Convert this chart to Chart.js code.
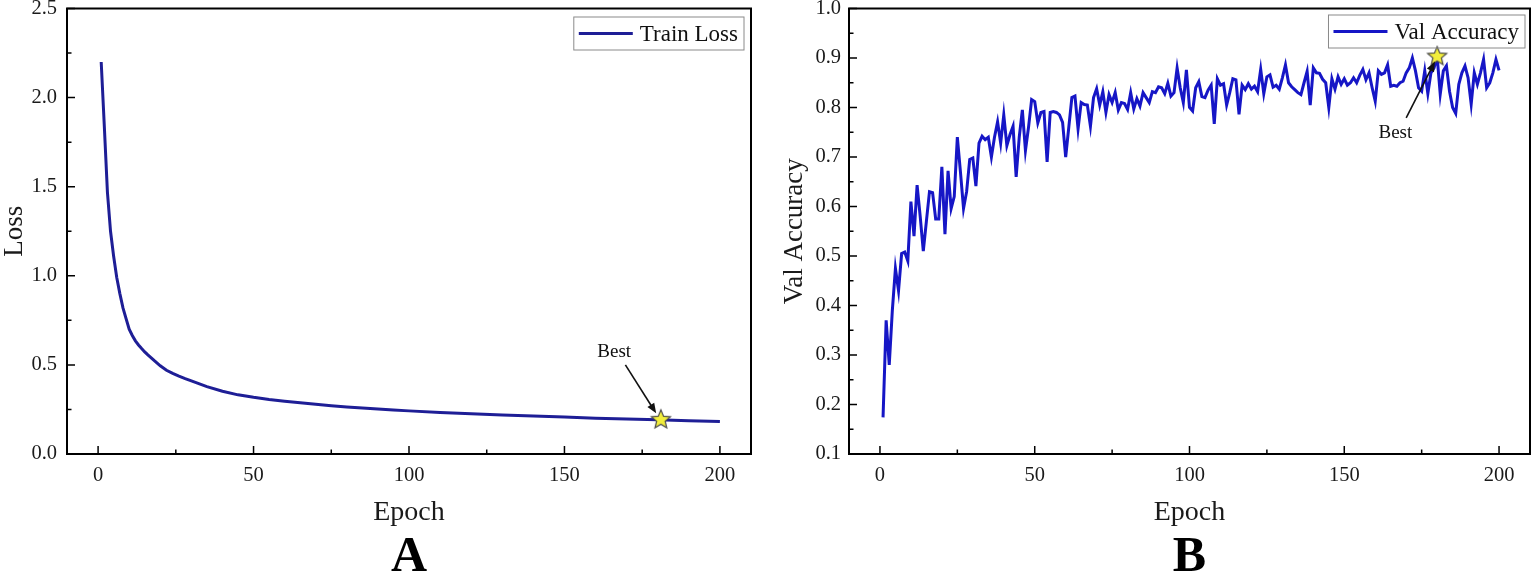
<!DOCTYPE html>
<html>
<head>
<meta charset="utf-8">
<script src="https://cdn.jsdelivr.net/npm/chart.js@4.4.1/dist/chart.umd.min.js"></script>
<style>
  html, body { margin: 0; padding: 0; background: #fff; overflow: hidden; }
  .panel { position: absolute; top: 0; height: 577px; }
  #panelA { left: 0; width: 760px; }
  #panelB { left: 760px; width: 775px; }
</style>
</head>
<body>
<div class="panel" id="panelA"><canvas id="lossChart"></canvas></div>
<div class="panel" id="panelB"><canvas id="accChart"></canvas></div>
<script>
const lossEpochs = [1, 2, 3, 4, 5, 6, 7, 8, 9, 10, 11, 12, 13, 14, 15, 16, 17, 18, 19, 20,
  22, 24, 26, 28, 30, 35, 40, 45, 50, 55, 60, 65, 70, 75, 80, 85, 90, 95, 100,
  110, 120, 130, 140, 150, 160, 170, 180, 190, 200];
const lossValues = [2.20, 1.84, 1.47, 1.25, 1.11, 0.99, 0.90, 0.82, 0.76, 0.70, 0.665, 0.635, 0.612, 0.592, 0.573, 0.556, 0.541, 0.525, 0.51, 0.495,
  0.47, 0.452, 0.437, 0.423, 0.41, 0.378, 0.352, 0.332, 0.318, 0.306, 0.296, 0.287, 0.279, 0.271, 0.264, 0.258, 0.252, 0.247, 0.242,
  0.233, 0.226, 0.219, 0.213, 0.207, 0.201, 0.196, 0.192, 0.187, 0.183];

// val accuracy, one value per epoch 1..200
const accValues = [
  0.174, 0.37, 0.28, 0.39, 0.475, 0.43, 0.505, 0.508, 0.49, 0.61,
  0.54, 0.643, 0.58, 0.51, 0.57, 0.63, 0.628, 0.575, 0.575, 0.68,
  0.544, 0.672, 0.596, 0.62, 0.74, 0.67, 0.596, 0.63, 0.695, 0.698,
  0.641, 0.728, 0.742, 0.735, 0.74, 0.70, 0.74, 0.771, 0.728, 0.785,
  0.723, 0.745, 0.762, 0.66, 0.74, 0.795, 0.713, 0.76, 0.816, 0.812,
  0.769, 0.79, 0.792, 0.69, 0.79, 0.792, 0.79, 0.785, 0.77, 0.70,
  0.76, 0.82, 0.823, 0.757, 0.81, 0.806, 0.805, 0.762, 0.82, 0.838,
  0.805, 0.832, 0.79, 0.826, 0.81, 0.83, 0.795, 0.81, 0.808, 0.796,
  0.83, 0.797, 0.818, 0.803, 0.83, 0.82, 0.81, 0.832, 0.83, 0.842,
  0.84, 0.828, 0.849, 0.823, 0.83, 0.88, 0.84, 0.81, 0.876, 0.80,
  0.793, 0.84, 0.852, 0.822, 0.82, 0.835, 0.845, 0.767, 0.858, 0.845,
  0.848, 0.805, 0.83, 0.858, 0.856, 0.786, 0.845, 0.836, 0.848, 0.837,
  0.843, 0.832, 0.877, 0.828, 0.862, 0.866, 0.841, 0.845, 0.837, 0.86,
  0.886, 0.85, 0.842, 0.836, 0.83, 0.826, 0.85, 0.873, 0.805, 0.88,
  0.87, 0.869, 0.857, 0.85, 0.80, 0.858, 0.837, 0.862, 0.847, 0.858,
  0.845, 0.85, 0.86, 0.85, 0.865, 0.877, 0.856, 0.87, 0.84, 0.813,
  0.874, 0.867, 0.87, 0.886, 0.843, 0.845, 0.843, 0.85, 0.853, 0.87,
  0.88, 0.90, 0.874, 0.84, 0.833, 0.874, 0.828, 0.87, 0.88, 0.903,
  0.827, 0.874, 0.884, 0.833, 0.80, 0.788, 0.847, 0.87, 0.884, 0.86,
  0.807, 0.87, 0.847, 0.87, 0.897, 0.84, 0.85, 0.87, 0.897, 0.875
];
const accEpochs = accValues.map((v, i) => i + 1);

const bestLoss = { x: 181, y: 0.192 };
const bestAcc = { x: 180, y: 0.903 };

const xTicks = [0, 25, 50, 75, 100, 125, 150, 175, 200];
const xLabelled = [0, 50, 100, 150, 200];
const lossTicks = [0, 0.25, 0.5, 0.75, 1, 1.25, 1.5, 1.75, 2, 2.25, 2.5];
const lossLabelled = [0, 0.5, 1, 1.5, 2, 2.5];
const accTicks = [0.1, 0.15, 0.2, 0.25, 0.3, 0.35, 0.4, 0.45, 0.5, 0.55, 0.6, 0.65, 0.7, 0.75, 0.8, 0.85, 0.9, 0.95, 1.0];
const accLabelled = [0.1, 0.2, 0.3, 0.4, 0.5, 0.6, 0.7, 0.8, 0.9, 1.0];

const SERIF = "'Liberation Serif', 'Times New Roman', serif";

const has = (list, v) => list.some((t) => Math.abs(t - v) < 1e-6);

function makeStar(r) {
  const c = document.createElement('canvas');
  const s = Math.ceil(r * 2 + 4);
  c.width = s;
  c.height = s;
  const g = c.getContext('2d');
  g.beginPath();
  for (let i = 0; i < 10; i++) {
    const rad = i % 2 === 0 ? r : r * 0.45;
    const a = -Math.PI / 2 + (i * Math.PI) / 5;
    g.lineTo(s / 2 + rad * Math.cos(a), s / 2 + rad * Math.sin(a));
  }
  g.closePath();
  g.fillStyle = '#f2ee3c';
  g.fill();
  g.lineWidth = 1.2;
  g.strokeStyle = '#4a4a4a';
  g.stroke();
  return c;
}

// frame, inward ticks, boxed legend and the "Best" arrow
const decorations = {
  id: 'decorations',
  afterDraw(chart, args, o) {
    const { ctx, chartArea: a, scales } = chart;
    ctx.save();
    ctx.strokeStyle = '#000';
    ctx.lineWidth = 2;
    ctx.strokeRect(a.left, a.top, a.right - a.left, a.bottom - a.top);

    ctx.lineWidth = 1.5;
    ctx.beginPath();
    o.xTicks.forEach((v) => {
      const px = scales.x.getPixelForValue(v);
      const len = has(o.xLabelled, v) ? 8 : 4.5;
      ctx.moveTo(px, a.bottom);
      ctx.lineTo(px, a.bottom - len);
    });
    o.yTicks.forEach((v) => {
      const py = scales.y.getPixelForValue(v);
      const len = has(o.yLabelled, v) ? 8 : 4.5;
      ctx.moveTo(a.left, py);
      ctx.lineTo(a.left + len, py);
    });
    ctx.stroke();

    // legend
    const ds = chart.data.datasets[1];
    ctx.font = '23px ' + SERIF;
    const tw = ctx.measureText(ds.label).width;
    const w = 5 + 54 + 7 + tw + 6;
    const h = 33;
    const lx = a.right - o.legendInset - w;
    const ly = a.top + o.legendTop;
    ctx.lineWidth = 1;
    ctx.strokeStyle = '#8a8a8a';
    ctx.strokeRect(lx, ly, w, h);
    ctx.strokeStyle = ds.borderColor;
    ctx.lineWidth = 2.8;
    ctx.beginPath();
    ctx.moveTo(lx + 5, ly + h / 2);
    ctx.lineTo(lx + 59, ly + h / 2);
    ctx.stroke();
    ctx.fillStyle = '#111';
    ctx.textBaseline = 'middle';
    ctx.textAlign = 'left';
    ctx.fillText(ds.label, lx + 66, ly + h / 2 + 1);

    // annotation
    const n = o.note;
    const tx = scales.x.getPixelForValue(n.text[0]);
    const ty = scales.y.getPixelForValue(n.text[1]);
    ctx.font = '19px ' + SERIF;
    ctx.textAlign = 'center';
    ctx.fillText('Best', tx, ty);
    const x0 = scales.x.getPixelForValue(n.from[0]);
    const y0 = scales.y.getPixelForValue(n.from[1]);
    const x1 = scales.x.getPixelForValue(n.to[0]);
    const y1 = scales.y.getPixelForValue(n.to[1]);
    const ang = Math.atan2(y1 - y0, x1 - x0);
    ctx.strokeStyle = '#111';
    ctx.lineWidth = 1.6;
    ctx.beginPath();
    ctx.moveTo(x0, y0);
    ctx.lineTo(x1 - 7 * Math.cos(ang), y1 - 7 * Math.sin(ang));
    ctx.stroke();
    ctx.beginPath();
    ctx.moveTo(x1, y1);
    ctx.lineTo(x1 - 10 * Math.cos(ang) + 4 * Math.sin(ang), y1 - 10 * Math.sin(ang) - 4 * Math.cos(ang));
    ctx.lineTo(x1 - 10 * Math.cos(ang) - 4 * Math.sin(ang), y1 - 10 * Math.sin(ang) + 4 * Math.cos(ang));
    ctx.closePath();
    ctx.fill();
    ctx.restore();
  },
};

function panelChart(id, p) {
  return new Chart(document.getElementById(id), {
    type: 'line',
    data: {
      datasets: [
        {
          label: 'Best',
          data: [p.best],
          showLine: false,
          pointStyle: makeStar(10),
          pointRadius: 10,
          order: 0,
        },
        {
          label: p.label,
          data: p.xs.map((x, i) => ({ x: x, y: p.ys[i] })),
          borderColor: p.color,
          borderWidth: 3,
          pointRadius: 0,
          tension: 0,
          order: 1,
        },
      ],
    },
    options: {
      responsive: true,
      maintainAspectRatio: false,
      animation: false,
      events: [],
      layout: { autoPadding: false, padding: { left: 0, right: p.padRight, top: 8.5, bottom: 0 } },
      plugins: {
        legend: { display: false },
        tooltip: { enabled: false },
        title: {
          display: true,
          text: p.panel,
          position: 'bottom',
          fullSize: false,
          color: '#000',
          padding: 0,
          font: { family: SERIF, size: 50, weight: 'bold', lineHeight: 0.76 },
        },
        decorations: {
          xTicks: xTicks,
          xLabelled: xLabelled,
          yTicks: p.yTicks,
          yLabelled: p.yLabelled,
          legendInset: p.legendInset,
          legendTop: p.legendTop,
          note: p.note,
        },
      },
      scales: {
        x: {
          type: 'linear',
          min: -10,
          max: 210,
          grid: { display: false, drawTicks: false },
          border: { display: false },
          afterBuildTicks: (s) => { s.ticks = xTicks.map((v) => ({ value: v })); },
          afterFit: (s) => { s.height = 85; s.paddingLeft = 0; s.paddingRight = 0; },
          ticks: {
            autoSkip: false,
            maxRotation: 0,
            padding: 9,
            color: '#1a1a1a',
            font: { family: SERIF, size: 20.5 },
            callback: (v) => (has(xLabelled, v) ? String(v) : ''),
          },
          title: {
            display: true,
            text: 'Epoch',
            color: '#1a1a1a',
            padding: { top: 0, bottom: 12 },
            font: { family: SERIF, size: 28, lineHeight: 1 },
          },
        },
        y: {
          min: p.yMin,
          max: p.yMax,
          grid: { display: false, drawTicks: false },
          border: { display: false },
          afterBuildTicks: (s) => { s.ticks = p.yTicks.map((v) => ({ value: v })); },
          afterFit: (s) => { s.width = p.yWidth; s.paddingTop = 0; s.paddingBottom = 0; },
          ticks: {
            autoSkip: false,
            padding: p.yTickPad,
            color: '#1a1a1a',
            font: { family: SERIF, size: 20.5 },
            callback: (v) => (has(p.yLabelled, v) ? v.toFixed(1) : ''),
          },
          title: {
            display: true,
            text: p.yTitle,
            color: '#1a1a1a',
            padding: { top: p.yTitlePad, bottom: 0 },
            font: { family: SERIF, size: 27, lineHeight: 1 },
          },
        },
      },
    },
    plugins: [decorations],
  });
}

panelChart('lossChart', {
  label: 'Train Loss',
  panel: 'A',
  xs: lossEpochs,
  ys: lossValues,
  best: bestLoss,
  color: '#1e1e96',
  yMin: 0,
  yMax: 2.5,
  yTicks: lossTicks,
  yLabelled: lossLabelled,
  yTitle: 'Loss',
  yWidth: 67,
  yTickPad: 10,
  yTitlePad: 1,
  padRight: 9,
  legendInset: 7,
  legendTop: 8.5,
  note: { text: [166, 0.575], from: [169.6, 0.5], to: [179.5, 0.228] },
});

panelChart('accChart', {
  label: 'Val Accuracy',
  panel: 'B',
  xs: accEpochs,
  ys: accValues,
  best: bestAcc,
  color: '#1616c6',
  yMin: 0.1,
  yMax: 1.0,
  yTicks: accTicks,
  yLabelled: accLabelled,
  yTitle: 'Val Accuracy',
  yWidth: 89,
  yTickPad: 8,
  yTitlePad: 21,
  padRight: 5,
  legendInset: 5,
  legendTop: 6.5,
  note: { text: [166.5, 0.748], from: [170, 0.779], to: [179.3, 0.893] },
});
</script>
</body>
</html>
